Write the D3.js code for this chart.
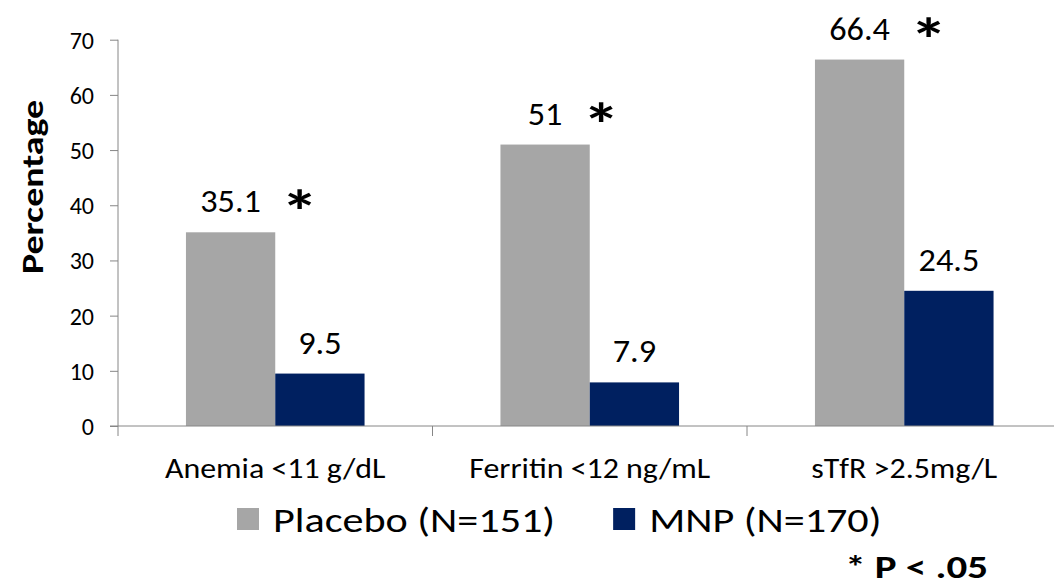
<!DOCTYPE html>
<html>
<head>
<meta charset="utf-8">
<script src="https://cdn.jsdelivr.net/npm/d3@7"></script>
<style>
  html, body { margin: 0; padding: 0; background: #fff; }
  svg { display: block; font-family: Carlito, Lato, "Open Sans", sans-serif; }
</style>
</head>
<body>
<svg id="chart" width="1054" height="587"></svg>
<script>
const categories = ["Anemia <11 g/dL", "Ferritin <12 ng/mL", "sTfR >2.5mg/L"];
const seriesNames = ["Placebo (N=151)", "MNP (N=170)"];
const placebo = [35.1, 51, 66.4];
const mnp = [9.5, 7.9, 24.5];
const valueLabels = [["35.1", "51", "66.4"], ["9.5", "7.9", "24.5"]];
const significant = [true, true, true];
const yTicks = [0, 10, 20, 30, 40, 50, 60, 70];
const colors = ["#A6A6A6", "#002060"];

const svg = d3.select("#chart");
const mLeft = 118, mBottom = 426, mTop = 39.7, step = 314.5;

const x = d3.scaleBand().domain(categories).range([mLeft, mLeft + step * categories.length]).padding(0);
const x1 = d3.scaleBand().domain(seriesNames).range([0, x.bandwidth()]).paddingInner(0).paddingOuter(0.761);
const y = d3.scaleLinear().domain([0, 70]).range([mBottom, mTop]);

const series = [placebo, mnp];

// text helper: horizontally stretched text anchored at (tx, ty)
function addText(parent, tx, ty, str, size, o = {}) {
  const t = parent.append("text")
    .attr("transform", `translate(${tx},${ty}) rotate(${o.rotate || 0}) scale(${o.sx || 1},1)`)
    .attr("text-anchor", o.anchor || "start")
    .attr("font-size", size)
    .attr("font-weight", o.weight || "normal")
    .attr("fill", "#000")
    .text(str);
  return t;
}

// bars
seriesNames.forEach((s, si) => {
  svg.append("g").selectAll("rect").data(series[si]).join("rect")
    .attr("x", (d, i) => x(categories[i]) + x1(s))
    .attr("y", d => y(d))
    .attr("width", x1.bandwidth())
    .attr("height", d => y(0) - y(d))
    .attr("fill", colors[si]);
});

// y axis
const yAxis = d3.axisLeft(y).tickValues(yTicks).tickSize(8).tickPadding(16).tickSizeOuter(0);
const gy = svg.append("g").attr("transform", `translate(${mLeft},0)`).call(yAxis);
gy.attr("font-family", null).attr("font-size", null);
gy.select(".domain").attr("stroke", "#868686").attr("d", `M0,${mTop}V${mBottom}`);
gy.selectAll(".tick line").attr("stroke", "#868686");
gy.selectAll(".tick text").attr("font-size", 24).attr("fill", "#000").attr("dy", "0.35em");

// x axis
const gx = svg.append("g").attr("transform", `translate(0,${mBottom})`);
gx.append("line").attr("x1", mLeft - 8).attr("x2", mLeft + step * 3).attr("y1", 0).attr("y2", 0).attr("stroke", "#868686");
const bounds = [mLeft, ...categories.map(c => x(c) + x.bandwidth())];
gx.selectAll("line.tk").data(bounds).join("line").attr("class", "tk")
  .attr("x1", d => d).attr("x2", d => d).attr("y1", 0).attr("y2", 10).attr("stroke", "#868686");
categories.forEach(c => {
  addText(gx, x(c) + x.bandwidth() / 2, 52, c, 28, { anchor: "middle", sx: 1.14 });
});

// value labels
seriesNames.forEach((s, si) => {
  series[si].forEach((v, i) => {
    const cx = x(categories[i]) + x1(s) + x1.bandwidth() / 2;
    const by = y(v) - 20;
    const t = addText(svg, cx, by, valueLabels[si][i], 32, { anchor: "middle", sx: 1.07 });
    if (si === 0 && significant[i]) {
      const w = t.node().getComputedTextLength() * 1.07;
      addText(svg, cx + w / 2 + 20, by + 21, "*", 60, { weight: "bold", sx: 1.25 });
    }
  });
});

// y title
addText(svg, 43, 187, "Percentage", 31, { anchor: "middle", weight: "bold", rotate: -90, sx: 1.22 });

// legend
let lx = 237;
seriesNames.forEach((s, si) => {
  svg.append("rect").attr("x", lx).attr("y", 508).attr("width", 22).attr("height", 22).attr("fill", colors[si]);
  const sx = 1.24;
  const t = addText(svg, lx + 36, 532, s, 34, { sx });
  lx += 36 + t.node().getComputedTextLength() * sx + 58;
});

// significance note
addText(svg, 988, 578, "* P < .05", 32, { anchor: "end", weight: "bold", sx: 1.28 });
</script>
</body>
</html>
